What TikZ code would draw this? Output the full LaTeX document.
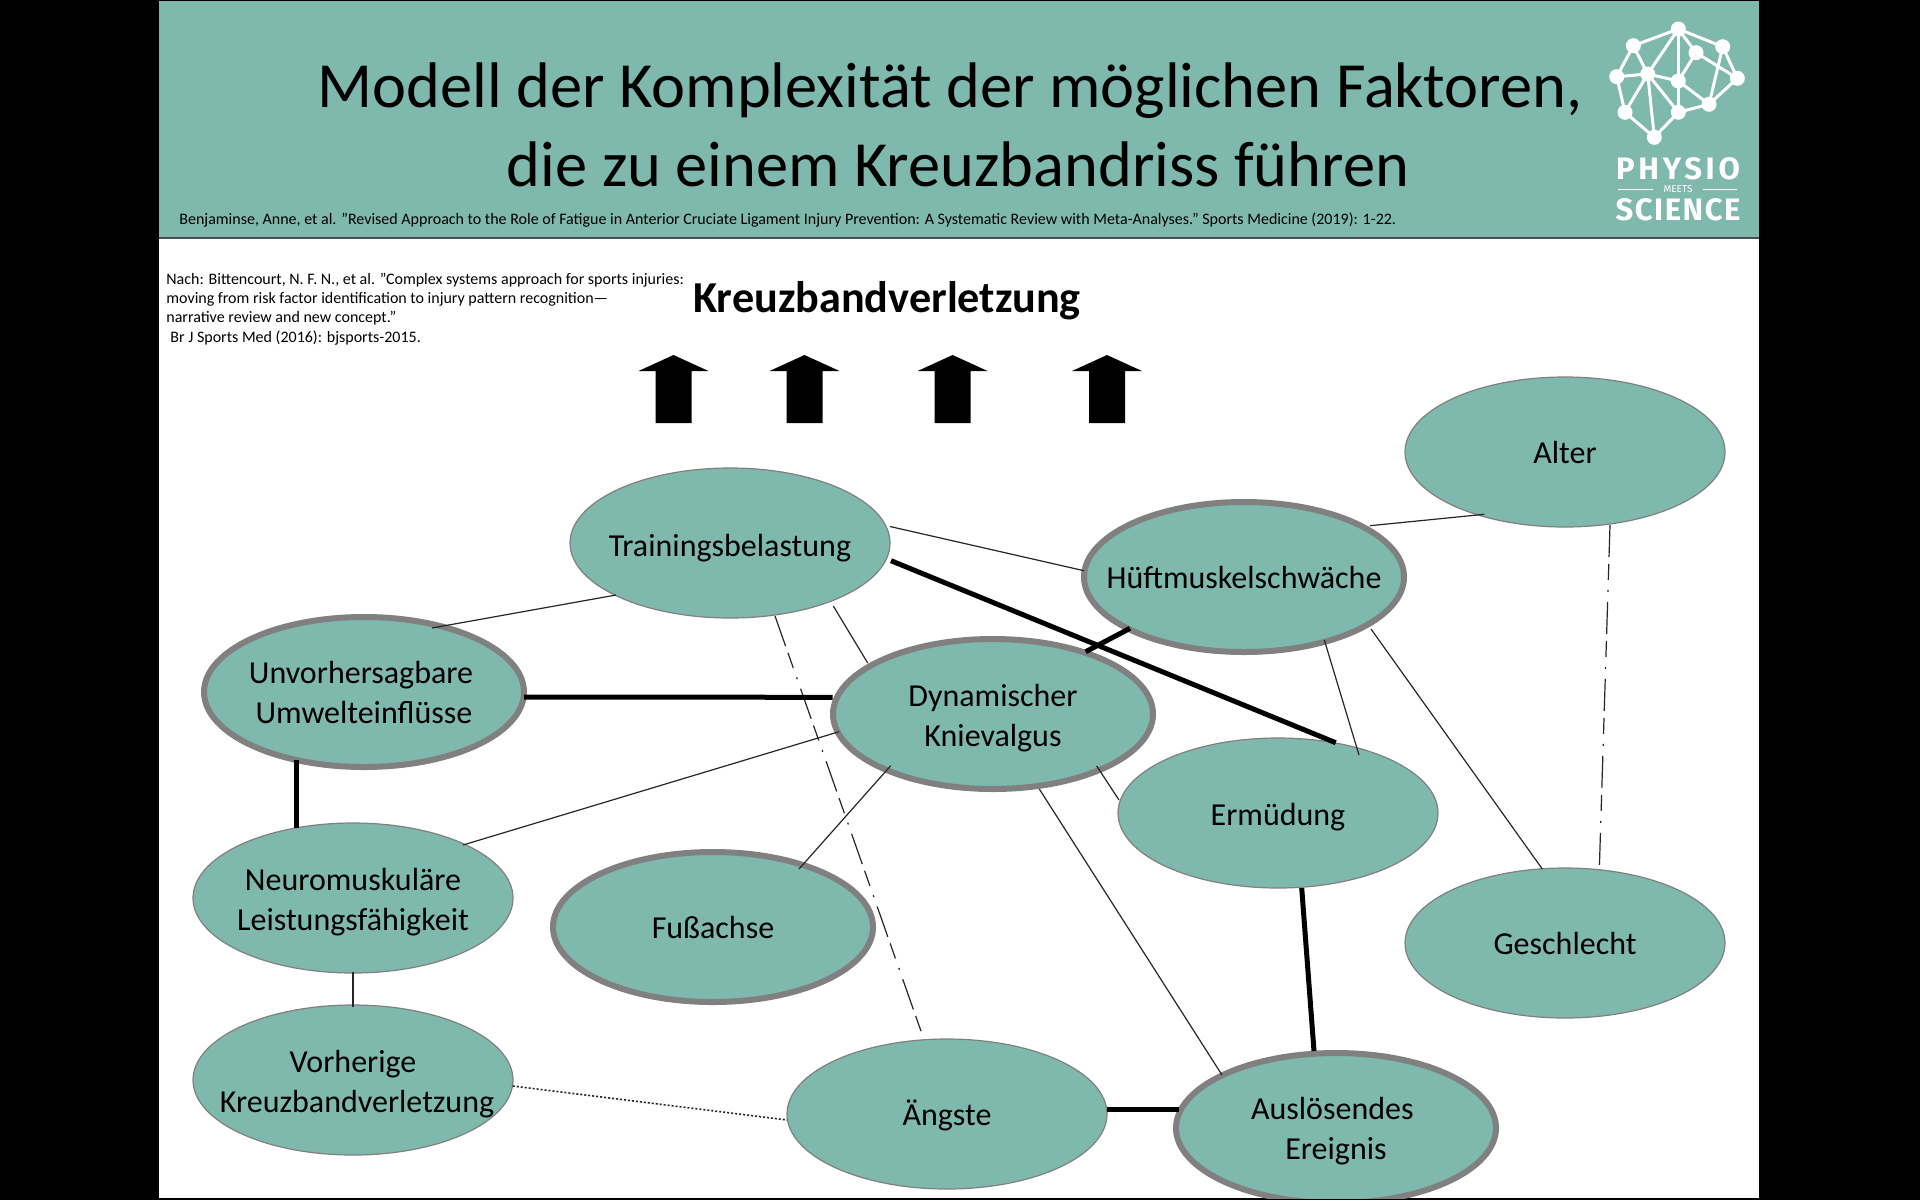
\documentclass[tikz,border=0pt]{standalone}
\usepackage{fontspec}
\setmainfont{Carlito}
\newfontfamily\logofont{Fira Sans}
\usetikzlibrary{shapes.geometric}
\definecolor{teal}{HTML}{7FB8AC}
\definecolor{ringgray}{HTML}{808080}
\newcommand{\tsz}[2]{\fontsize{#1}{#2}\selectfont}
\newcommand{\dn}[1]{\rule{0pt}{#1}}
\tikzset{
  x=0.5pt,y=-0.5pt,
  oval/.style={ellipse,fill=teal,draw=ringgray,line width=0.6pt,minimum width=160pt,minimum height=75pt,inner sep=0pt,align=center,font=\tsz{16pt}{20pt}},
  ovalthick/.style={oval,line width=3pt},
  thin line/.style={line width=0.6pt,black!85},
  fat line/.style={line width=2.5pt,black},
  dd line/.style={line width=0.6pt,black!85,dash pattern=on 16pt off 3.5pt on 8pt off 5pt on 1pt off 5pt},
  dot line/.style={line width=0.8pt,black!85,dash pattern=on 1pt off 1pt},
  lognode/.style={circle,fill=white,inner sep=0pt,minimum size=7.5pt},
  logline/.style={line width=1.5pt,white},
  plaintext/.style={inner sep=0pt,anchor=base west,font=\tsz{8pt}{9pt}},
}
\begin{document}
\begin{tikzpicture}
\useasboundingbox (0,0) rectangle (1920,1200);
\fill[black] (0,0) rectangle (1920,1200);
\fill[white] (159,238) rectangle (1759,1198);
\fill[teal] (159,1) rectangle (1759,238);
\draw[line width=0.6pt,black!70] (159,238) -- (1759,238);

\node[inner sep=0pt,font=\tsz{32.2pt}{36pt}] (title1) at (950,91) {Modell der Komplexität der möglichen Faktoren,};
\node[inner sep=0pt,font=\tsz{32.2pt}{36pt}] (title2) at (958,164) {die zu einem Kreuzbandriss führen};
\node[plaintext] (refa) at (179,224) {Benjaminse, Anne, et al. "Revised Approach to the Role of Fatigue in Anterior Cruciate Ligament Injury Prevention: A Systematic Review with Meta-Analyses." Sports Medicine (2019): 1-22.};
\node[plaintext] (refb1) at (166,284) {Nach: Bittencourt, N. F. N., et al. "Complex systems approach for sports injuries:};
\node[plaintext] (refb2) at (166,303) {moving from risk factor identification to injury pattern recognition—};
\node[plaintext] (refb3) at (166,322) {narrative review and new concept."};
\node[plaintext] (refb4) at (170,342) {Br J Sports Med (2016): bjsports-2015.};
\node[inner sep=0pt,font=\bfseries\tsz{22.1pt}{26pt}] (head) at (887,301) {Kreuzbandverletzung};

\foreach \c in {673.5,804.5,952.6,1107}
  \fill[black] (\c,355) -- (\c+35,371) -- (\c+18,371) -- (\c+18,423) -- (\c-18,423) -- (\c-18,371) -- (\c-35,371) -- cycle;

% logo
\foreach \n/\p in {t/{1678.3,29},a/{1633.3,45.7},b/{1616.7,76.7},c/{1647.7,74},d/{1625,112.3},e/{1654.3,137.3},f/{1678.3,112.3},g/{1709,104.3},h/{1678.3,81},i/{1696,52.7},j/{1722.7,46.7},k/{1737.3,78.3}}
  \coordinate (l\n) at (\p);
\foreach \u/\v in {t/a,t/c,t/f,t/i,t/j,a/b,a/c,b/c,b/d,c/d,c/e,c/f,c/h,d/e,e/f,f/g,h/g,h/i,i/k,j/k,j/g,g/k}
  \draw[logline] (l\u) -- (l\v);
\foreach \n in {t,a,b,c,d,e,f,g,h,i,j,k}
  \node[lognode] at (l\n) {};
\node[inner sep=0pt,text=white,font=\logofont\bfseries\tsz{15.5pt}{18pt}\addfontfeature{LetterSpace=12}] (lphysio) at (1678,168.5) {PHYSIO};
\node[inner sep=0pt,text=white,font=\logofont\tsz{5pt}{6pt}] (lmeets) at (1678,189) {MEETS};
\draw[white,line width=0.5pt] (1618,189) -- (1653,189) (1703,189) -- (1737,189);
\node[inner sep=0pt,text=white,font=\logofont\bfseries\tsz{15.5pt}{18pt}\addfontfeature{LetterSpace=5}] (lscience) at (1678,210) {SCIENCE};

% ovals
\node[oval] (alter) at (1565,452) {\clap{Alter}};
\node[oval] (train) at (730,543) {\clap{\dn{16.6pt}Trainingsbelastung}};
\node[ovalthick] (hueft) at (1244,577) {\clap{Hüftmuskelschwäche}};
\node[ovalthick] (unvor) at (364,692) {\clap{Unvorhersagbare\hspace{3pt}}\\\clap{Umwelteinflüsse}};
\node[oval] (ermued) at (1278,813) {\clap{\dn{15.4pt}Ermüdung}};
\node[ovalthick] (dyn) at (993,714) {\clap{\dn{15.4pt}Dynamischer}\\\clap{Knievalgus}};
\node[oval] (neuro) at (353,898) {\clap{\dn{15.4pt}Neuromuskuläre}\\\clap{Leistungsfähigkeit}};
\node[ovalthick] (fuss) at (713,927) {\clap{Fußachse}};
\node[oval] (geschl) at (1565,943) {\clap{Geschlecht}};
\node[oval] (vorher) at (353,1080) {\clap{\dn{15.4pt}Vorherige}\\\clap{\hspace{4pt}Kreuzbandverletzung}};
\node[oval] (angst) at (947,1114) {\clap{\dn{14.2pt}Ängste}};
\begin{scope}
\clip (159,238) rectangle (1759,1198);
\node[ovalthick] (ausl) at (1336,1128) {\clap{\dn{13.8pt}Auslösendes\hspace{3.7pt}}\\\clap{Ereignis}};
\end{scope}

% connectors: ends are offsets from the centres of the named ovals
\draw[thin line] ([shift={(160,-16.5)}]train.center) -- ([shift={(-160,-6.3)}]hueft.center);
\draw[fat line] ([shift={(161,17.7)}]train.center) -- ([shift={(57.7,-70.3)}]ermued.center);
\draw[thin line] ([shift={(-80.7,62.3)}]alter.center) -- ([shift={(126,-51.3)}]hueft.center);
\draw[dd line] ([shift={(45,73)}]alter.center) -- ([shift={(34.3,-73.7)}]geschl.center);
\draw[thin line] ([shift={(80.3,63)}]hueft.center) -- ([shift={(81,-58)}]ermued.center);
\draw[thin line] ([shift={(127,52)}]hueft.center) -- ([shift={(-22.7,-74)}]geschl.center);
\draw[fat line] ([shift={(-114,51.3)}]hueft.center) -- ([shift={(92.7,-62.3)}]dyn.center);
\draw[thin line] ([shift={(-114,52)}]train.center) -- ([shift={(68,-64)}]unvor.center);
\draw[thin line] ([shift={(103.3,63)}]train.center) -- ([shift={(-125.3,-51)}]dyn.center);
\draw[dd line] ([shift={(45,73)}]train.center) -- ([shift={(-25,-80)}]angst.center);
\draw[fat line] ([shift={(160,5)}]unvor.center) -- ([shift={(-160.3,-16.7)}]dyn.center);
\draw[fat line] ([shift={(-68,68.4)}]unvor.center) -- ([shift={(-57,-70)}]neuro.center);
\draw[thin line] ([shift={(-154,17.7)}]dyn.center) -- ([shift={(110,-53)}]neuro.center);
\draw[thin line] ([shift={(-102.3,51.7)}]dyn.center) -- ([shift={(86,-58)}]fuss.center);
\draw[thin line] ([shift={(103.7,52)}]dyn.center) -- ([shift={(-159,-13)}]ermued.center);
\draw[thin line] ([shift={(46.3,75)}]dyn.center) -- ([shift={(-114,-53)}]ausl.center);
\draw[thin line] ([shift={(0,74)}]neuro.center) -- ([shift={(0,-73.5)}]vorher.center);
\draw[dot line] ([shift={(159.8,6)}]vorher.center) -- ([shift={(-160,6)}]angst.center);
\draw[fat line] ([shift={(160,-4.7)}]angst.center) -- ([shift={(-157.4,-18.7)}]ausl.center);
\draw[fat line] ([shift={(23.7,75)}]ermued.center) -- ([shift={(-22,-77)}]ausl.center);
\end{tikzpicture}
\end{document}
